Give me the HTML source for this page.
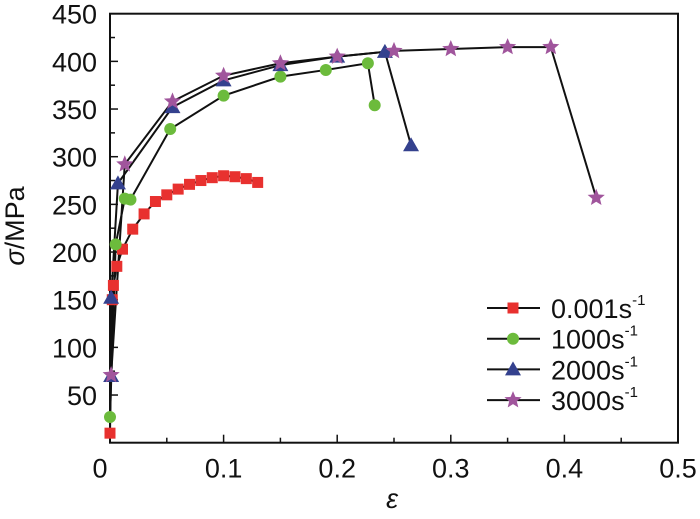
<!DOCTYPE html>
<html><head><meta charset="utf-8"><style>
body{margin:0;background:#fff;width:700px;height:514px;overflow:hidden}
text{font-family:"Liberation Sans",sans-serif;fill:#111}
</style></head><body>
<svg id="c" width="700" height="514"></svg>
<script>
const xTicks=[0,0.1,0.2,0.3,0.4,0.5];
const yTicks=[50,100,150,200,250,300,350,400,450];
const seriesNames=["0.001s","1000s","2000s","3000s"];
const s1x=[0.000,0.002,0.003,0.006,0.011,0.020,0.030,0.040,0.050,0.060,0.070,0.080,0.090,0.100,0.110,0.120,0.130];
const s1y=[10,150,165,185,203,224,240,253,260,266,271,275,278,280,279,277,273];
const s2x=[0.000,0.005,0.013,0.018,0.053,0.100,0.150,0.190,0.227,0.233];
const s2y=[27,208,256,255,329,364,384,391,398,354];
const s3x=[0.001,0.001,0.007,0.055,0.100,0.150,0.200,0.242,0.265];
const s3y=[70,152,272,352,380,396,405,410,312];
const s4x=[0.001,0.013,0.055,0.100,0.150,0.200,0.250,0.300,0.350,0.388,0.428];
const s4y=[71,292,358,385,398,405,411,413,415,415,257];
const L=110,R=678,T=13.7,B=442.7;
const X=v=>L+v/0.5*(R-L), Y=v=>B-v/450*(B-T);
const svg=document.getElementById('c');const NS="http://www.w3.org/2000/svg";
function mk(t,a,p){const e=document.createElementNS(NS,t);for(const k in a)e.setAttribute(k,a[k]);(p||svg).appendChild(e);return e;}
const frame=mk('rect',{x:L,y:T,width:R-L,height:B-T,fill:'none',stroke:'#111','stroke-width':2});


for(let i=0;i<=10;i++){const v=i*0.05;const x=X(v);mk('line',{x1:x,x2:x,y1:B,y2:B-(i%2?5:8),stroke:'#111','stroke-width':1.5});}
for(let i=1;i<18;i++){const v=i*25;const y=Y(v);mk('line',{x1:L,x2:L+(i%2?5:8),y1:y,y2:y,stroke:'#111','stroke-width':1.5});}
xTicks.forEach(v=>{const t=mk('text',{x:v===0?100:X(v),y:B+35,'text-anchor':'middle','font-size':27});t.textContent=v;

});
yTicks.forEach(v=>{const t=mk('text',{x:L-13,y:Y(v)+10,'text-anchor':'end','font-size':27});t.textContent=v;

});
const xt=mk('text',{x:392,y:508,'text-anchor':'middle','font-size':27,'font-style':'italic'});xt.textContent='ε';


const yt=mk('text',{x:0,y:0,'text-anchor':'middle','font-size':27,transform:'translate(24,226) rotate(-90)'});
yt.innerHTML='<tspan font-style="italic">σ</tspan>/MPa';


function marker(type,x,y,g){
 if(type==0)return mk('rect',{x:x-5.5,y:y-5.5,width:11,height:11,fill:'#e8312f'},g);
 if(type==1)return mk('circle',{cx:x,cy:y,r:6,fill:'#6cbb3c'},g);
 if(type==2)return mk('polygon',{points:`${x},${y-8} ${x-8},${y+6} ${x+8},${y+6}`,fill:'#34418e'},g);
 let p=[];for(let i=0;i<10;i++){const r=i%2?4:9,a=-Math.PI/2+i*Math.PI/5;p.push((x+r*Math.cos(a)).toFixed(1)+','+(y+r*Math.sin(a)).toFixed(1));}
 return mk('polygon',{points:p.join(' '),fill:'#a0559c'},g);
}
const all=[[s1x,s1y],[s2x,s2y],[s3x,s3y],[s4x,s4y]];
all.forEach((s,k)=>{
 const g=mk('g',{});
 
 
 mk('polyline',{points:s[0].map((v,i)=>X(v)+','+Y(s[1][i])).join(' '),fill:'none',stroke:'#111','stroke-width':2},g);
});
all.forEach((s,k)=>{s[0].forEach((v,i)=>{const m=marker(k,X(v),Y(s[1][i]));
 
 });});
seriesNames.forEach((n,k)=>{
 const y=308+k*30.7;const g=mk('g',{});
 
 
 mk('line',{x1:487,x2:540,y1:y,y2:y,stroke:'#111','stroke-width':2},g);
 marker(k,513,y,g);
 const t=mk('text',{x:551,y:y+10,'font-size':27},g);t.innerHTML=n+'<tspan font-size="15" dy="-13">-1</tspan>';
});
</script></body></html>
